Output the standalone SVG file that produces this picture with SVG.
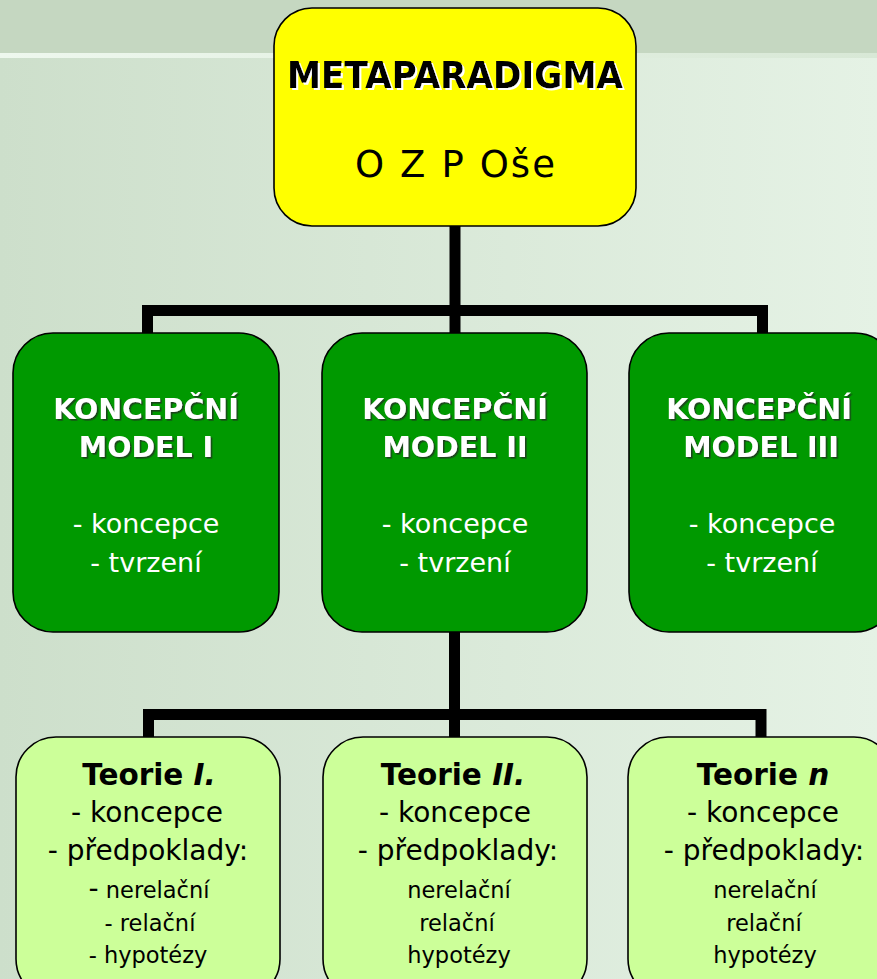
<svg xmlns="http://www.w3.org/2000/svg" width="877" height="979" viewBox="0 0 877 979">
<defs>
<linearGradient id="bg" x1="0" y1="0" x2="1" y2="0">
<stop offset="0" stop-color="#cddfcb"/>
<stop offset="1" stop-color="#e5f2e5"/>
</linearGradient>
<linearGradient id="ln" x1="0" y1="0" x2="1" y2="0">
<stop offset="0" stop-color="#eef8ee"/>
<stop offset="1" stop-color="#d8e8d6"/>
</linearGradient>
<filter id="wsh" x="-5%" y="-20%" width="110%" height="140%">
<feDropShadow dx="2" dy="2" stdDeviation="0.6" flood-color="#ffffff" flood-opacity="1"/>
</filter>
<filter id="dsh" x="-5%" y="-20%" width="110%" height="140%">
<feDropShadow dx="1.6" dy="1.6" stdDeviation="0.5" flood-color="#1a3a1a" flood-opacity="0.9"/>
</filter>
<style>
.box{stroke:#000;stroke-width:1.6}
.y{fill:#ffff00}
.g{fill:#009900}
.l{fill:#ccff99}
text{font-family:"DejaVu Sans","Verdana",sans-serif;text-anchor:middle}
.t1{font-size:38px;font-weight:bold;fill:#000}
.t2{font-size:37px;fill:#000}
.gt{font-size:28.5px;font-weight:bold;fill:#fff}
.gr{font-size:27px;fill:#fff}
.bt{font-size:29.5px;font-weight:bold;fill:#000}
.br{font-size:28px;fill:#000}
.bs{font-size:22.5px;fill:#000}
.conn{fill:none;stroke:#000;stroke-width:11;stroke-linejoin:miter;stroke-linecap:butt}
</style>
</defs>
<rect x="0" y="0" width="877" height="979" fill="url(#bg)"/>
<rect x="0" y="0" width="877" height="53" fill="#c5d7c1"/>
<rect x="0" y="53" width="877" height="5" fill="url(#ln)"/>

<g id="connectors">
<path class="conn" d="M455 226 V333"/>
<path class="conn" d="M147.5 333 V310.5 H762.5 V333"/>
<path class="conn" d="M454.5 632 V737"/>
<path class="conn" d="M148.5 737 V714.5 H761 V737"/>
</g>

<g id="metaparadigma">
<rect class="box y" x="274" y="8" width="362" height="218" rx="38"/>
<text class="t1" x="455" y="88" textLength="336" lengthAdjust="spacingAndGlyphs" filter="url(#wsh)">METAPARADIGMA</text>
<text class="t2" x="455" y="177" textLength="200">O Z P Oše</text>
</g>

<g id="model1">
<rect class="box g" x="13" y="333" width="266" height="299" rx="40"/>
<text class="gt" x="146" y="419" filter="url(#dsh)">KONCEPČNÍ</text>
<text class="gt" x="146" y="457" filter="url(#dsh)">MODEL I</text>
<text class="gr" x="146" y="533">- koncepce</text>
<text class="gr" x="146" y="572">- tvrzení</text>
</g>

<g id="model2">
<rect class="box g" x="322" y="333" width="265" height="299" rx="40"/>
<text class="gt" x="455" y="419" filter="url(#dsh)">KONCEPČNÍ</text>
<text class="gt" x="455" y="457" filter="url(#dsh)">MODEL II</text>
<text class="gr" x="455" y="533">- koncepce</text>
<text class="gr" x="455" y="572">- tvrzení</text>
</g>

<g id="model3">
<rect class="box g" x="629" y="333" width="266" height="299" rx="40"/>
<text class="gt" x="759" y="419" filter="url(#dsh)">KONCEPČNÍ</text>
<text class="gt" x="761" y="457" filter="url(#dsh)">MODEL III</text>
<text class="gr" x="762" y="533">- koncepce</text>
<text class="gr" x="762" y="572">- tvrzení</text>
</g>

<g id="teorie1">
<rect class="box l" x="16" y="737" width="264" height="262" rx="40"/>
<text class="bt" x="149" y="785">Teorie <tspan font-style="italic">I.</tspan></text>
<text class="br" x="147" y="822">- koncepce</text>
<text class="br" x="148" y="860">- předpoklady:</text>
<text class="bs" x="149" y="898"><tspan font-size="28px">-</tspan> nerelační</text>
<text class="bs" x="150" y="931">- relační</text>
<text class="bs" x="148" y="963">- hypotézy</text>
</g>

<g id="teorie2">
<rect class="box l" x="323" y="737" width="264" height="262" rx="40"/>
<text class="bt" x="453" y="785">Teorie <tspan font-style="italic">II.</tspan></text>
<text class="br" x="455" y="822">- koncepce</text>
<text class="br" x="458" y="860">- předpoklady:</text>
<text class="bs" x="459" y="898">nerelační</text>
<text class="bs" x="457" y="931">relační</text>
<text class="bs" x="459" y="963">hypotézy</text>
</g>

<g id="teorien">
<rect class="box l" x="628" y="737" width="266" height="262" rx="40"/>
<text class="bt" x="763" y="785">Teorie <tspan font-style="italic">n</tspan></text>
<text class="br" x="763" y="822">- koncepce</text>
<text class="br" x="764" y="860">- předpoklady:</text>
<text class="bs" x="765" y="898">nerelační</text>
<text class="bs" x="764" y="931">relační</text>
<text class="bs" x="765" y="963">hypotézy</text>
</g>
</svg>
